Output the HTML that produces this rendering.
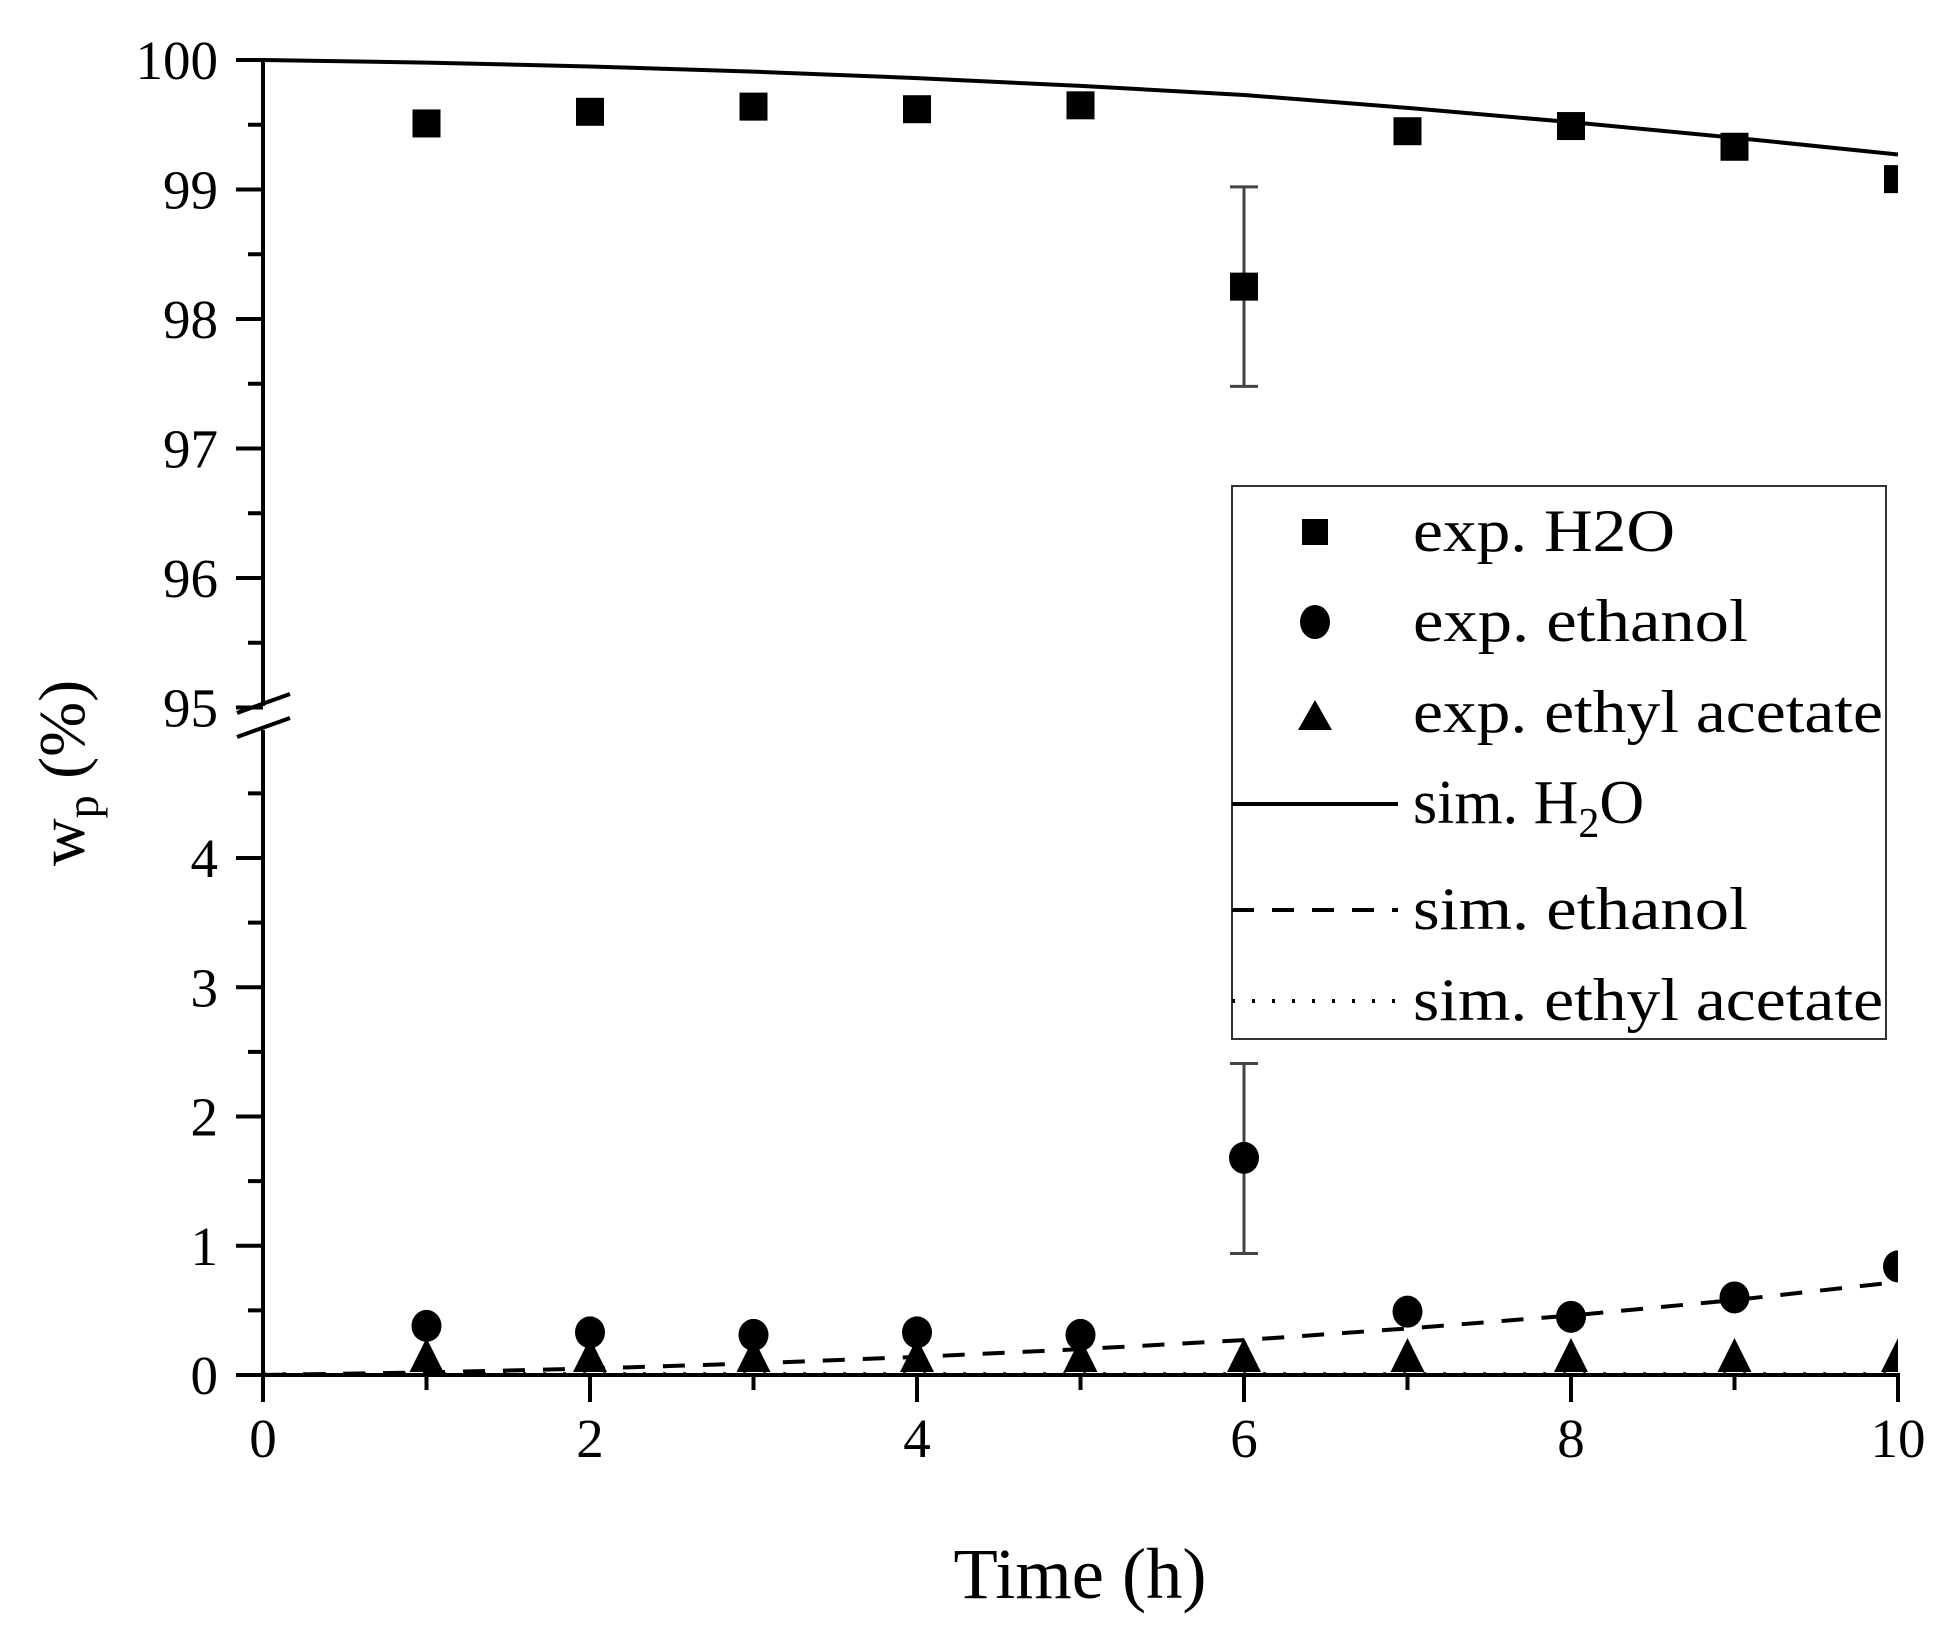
<!DOCTYPE html>
<html><head><meta charset="utf-8"><style>html,body{margin:0;padding:0;background:#fff}svg{display:block}</style></head>
<body>
<svg width="1955" height="1632" viewBox="0 0 1955 1632" xmlns="http://www.w3.org/2000/svg" font-family="'Liberation Serif', serif" fill="#000">
<defs><clipPath id="c"><rect x="263" y="30" width="1635" height="1400"/></clipPath></defs>
<g stroke="#000" stroke-width="4" fill="none">
<line x1="263" y1="58" x2="263" y2="706"/>
<line x1="263" y1="730" x2="263" y2="1377"/>
<line x1="255" y1="1375" x2="1900" y2="1375"/>
<line x1="237" y1="713" x2="290" y2="694"/>
<line x1="237" y1="737" x2="290" y2="718"/>
</g>
<g stroke="#000" stroke-width="4" id="ticks"></g>
<g font-size="55" text-anchor="end" id="ylab"></g>
<g font-size="55" text-anchor="middle" id="xlab"></g>
<text x="1080" y="1598" font-size="72" text-anchor="middle" textLength="253" lengthAdjust="spacingAndGlyphs">Time (h)</text>
<text transform="translate(84,773) rotate(-90)" font-size="66" text-anchor="middle">w<tspan font-size="46" dy="14">p</tspan><tspan dy="-14"> (%)</tspan></text>
<g clip-path="url(#c)" id="data"></g>
<rect x="1232" y="486" width="654" height="553" fill="#fff" stroke="#333" stroke-width="2"/>
<g font-size="60">
<rect x="1302" y="519" width="26" height="26"/>
<text x="1413" y="551" textLength="262" lengthAdjust="spacingAndGlyphs">exp. H2O</text>
<ellipse cx="1315" cy="622" rx="15" ry="17"/>
<text x="1413" y="641" textLength="335" lengthAdjust="spacingAndGlyphs">exp. ethanol</text>
<polygon points="1315,700 1298,730 1332,730"/>
<text x="1413" y="732" textLength="470" lengthAdjust="spacingAndGlyphs">exp. ethyl acetate</text>
<line x1="1232" y1="804" x2="1398" y2="804" stroke="#000" stroke-width="4"/>
<text x="1413" y="823" font-size="62">sim. H<tspan font-size="42" dy="14">2</tspan><tspan dy="-14">O</tspan></text>
<line x1="1232" y1="910" x2="1398" y2="910" stroke="#000" stroke-width="4" stroke-dasharray="22,18"/>
<text x="1413" y="929" textLength="335" lengthAdjust="spacingAndGlyphs">sim. ethanol</text>
<line x1="1232" y1="1001" x2="1398" y2="1001" stroke="#000" stroke-width="4" stroke-dasharray="3,17"/>
<text x="1413" y="1020" textLength="470" lengthAdjust="spacingAndGlyphs">sim. ethyl acetate</text>
</g>
<script>
const NS="http://www.w3.org/2000/svg";
const X=h=>263+h*163.5, YU=v=>60+(100-v)*129.5, YL=v=>1375-v*129.25;
function el(p,t,a,txt){const e=document.createElementNS(NS,t);for(const k in a)e.setAttribute(k,a[k]);if(txt!==undefined)e.textContent=txt;document.getElementById(p).appendChild(e);}
for(let v=100;v>=95;v-=0.5){const y=YU(v);const maj=v%1===0;el('ticks','line',{x1:maj?236:248,x2:263,y1:y,y2:y});if(maj)el('ylab','text',{x:218,y:y+19},String(v));}
for(let v=0;v<=4.5;v+=0.5){const y=YL(v);const maj=v%1===0;el('ticks','line',{x1:maj?236:248,x2:263,y1:y,y2:y});if(maj)el('ylab','text',{x:218,y:y+19},String(v));}
for(let h=0;h<=10;h++){const x=X(h);const maj=h%2===0;el('ticks','line',{x1:x,x2:x,y1:1375,y2:maj?1402:1390});if(maj)el('xlab','text',{x:x,y:1457},String(h));}
const simH=[100,99.98,99.95,99.91,99.86,99.8,99.73,99.63,99.52,99.4,99.27];
const simE=[0,0.02,0.05,0.09,0.14,0.2,0.27,0.36,0.46,0.58,0.72];
let d='';simH.forEach((v,i)=>d+=(i?'L':'M')+X(i)+' '+YU(v));
el('data','path',{d:d,fill:'none',stroke:'#000','stroke-width':4});
d='';simE.forEach((v,i)=>d+=(i?'L':'M')+X(i)+' '+YL(v));
el('data','path',{d:d,fill:'none',stroke:'#000','stroke-width':4,'stroke-dasharray':'22,18'});
el('data','line',{x1:263,x2:1898,y1:YL(0.01),y2:YL(0.01),stroke:'#000','stroke-width':3,'stroke-dasharray':'3,17'});
const H=[99.51,99.6,99.64,99.62,99.65,98.25,99.45,99.49,99.33,99.08];
const E=[0.38,0.33,0.31,0.33,0.31,1.68,0.49,0.45,0.6,0.84];
el('data','line',{x1:X(6),x2:X(6),y1:YU(99.02),y2:YU(97.48),stroke:'#444','stroke-width':3});
el('data','line',{x1:X(6)-14,x2:X(6)+14,y1:YU(99.02),y2:YU(99.02),stroke:'#444','stroke-width':3});
el('data','line',{x1:X(6)-14,x2:X(6)+14,y1:YU(97.48),y2:YU(97.48),stroke:'#444','stroke-width':3});
el('data','line',{x1:X(6),x2:X(6),y1:YL(2.41),y2:YL(0.94),stroke:'#444','stroke-width':3});
el('data','line',{x1:X(6)-14,x2:X(6)+14,y1:YL(2.41),y2:YL(2.41),stroke:'#444','stroke-width':3});
el('data','line',{x1:X(6)-14,x2:X(6)+14,y1:YL(0.94),y2:YL(0.94),stroke:'#444','stroke-width':3});
for(let i=0;i<10;i++){const x=X(i+1);
el('data','rect',{x:x-14,y:YU(H[i])-14,width:28,height:28});
el('data','polygon',{points:`${x},${1338} ${x-17},${1372} ${x+17},${1372}`});
el('data','ellipse',{cx:x,cy:YL(E[i]),rx:15,ry:16});}
</script>
</svg>
</body></html>
